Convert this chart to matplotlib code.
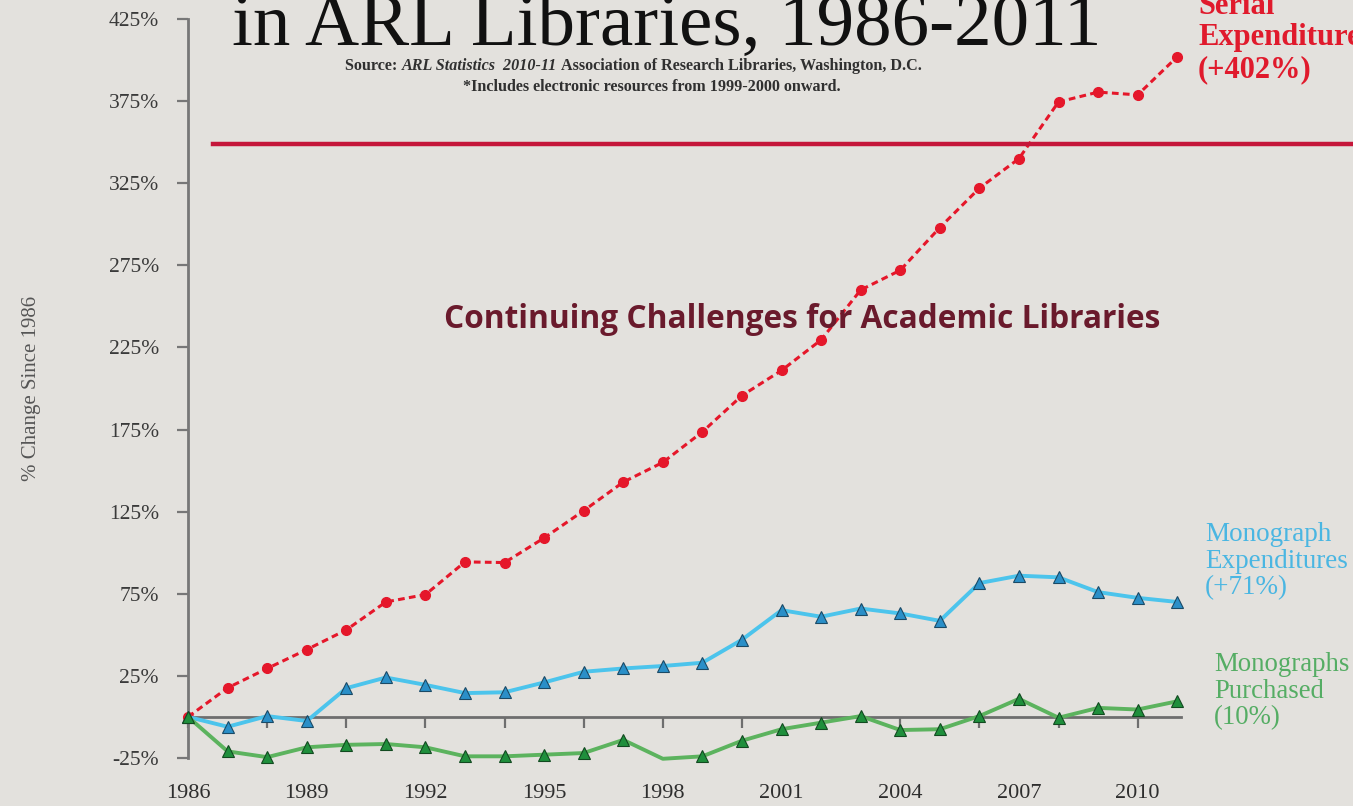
import matplotlib
matplotlib.use("Agg")
import matplotlib.pyplot as plt
from matplotlib.lines import Line2D

# ---------------- data ----------------
years = list(range(1986, 2012))
serial_exp = [0, 17.7, 29.5, 41, 53, 70, 74.5, 94.4, 94, 109, 125.6, 143, 155, 173.6,
              195.7, 211, 229.6, 260, 272, 298, 322, 340, 374.5, 380.5, 378.8, 402]
mono_exp = [0, -6, 0.5, -2.5, 17.5, 24, 19.5, 14.5, 15, 21, 27.5, 29.5, 31, 33,
            47, 65, 61, 66, 63, 58.5, 81.5, 86, 85, 76, 72.5, 70]
mono_purch = [0, -21, -24.5, -18.5, -17, -16.5, -18.5, -24, -24, -23, -22, -14, -25.5, -24,
              -14.5, -7.5, -3.5, 0.5, -8, -7.5, 0.5, 11, -0.5, 5.5, 4.5, 9.5]
ytick_vals = [-25, 25, 75, 125, 175, 225, 275, 325, 375, 425]
ytick_labels = [f"{v}%" for v in ytick_vals]
xlabel_years = [1986, 1989, 1992, 1995, 1998, 2001, 2004, 2007, 2010]
xtick_years = list(range(1986, 2012, 2))
purch_no_marker_year = 1998

BG = "#e3e1dd"
SERIF = ["Liberation Serif", "DejaVu Serif"]

fig = plt.figure(figsize=(13.53, 8.06), dpi=100, facecolor=BG)
ax = fig.add_axes([0.139, 0.0596, 0.734, 0.9168])
ax.set_facecolor(BG)

# series
ax.plot(years, serial_exp, color="#e5172a", lw=2.2, ls=(0, (2.2, 1.4)),
        marker="o", ms=7, mfc="#e5172a", mec="#e5172a", zorder=4, clip_on=False)
ax.plot(years, mono_exp, color="#4cc4ec", lw=2.8, marker="^", ms=8,
        mfc="#2a8fc8", mec="#1a4a66", mew=0.8, zorder=4, clip_on=False)
idx = [i for i, y in enumerate(years) if y != purch_no_marker_year]
ax.plot(years, mono_purch, color="#5cb35e", lw=2.8, marker="^", ms=8,
        mfc="#1f8f3c", mec="#124a20", mew=0.8, markevery=idx, zorder=4, clip_on=False)

ax.set_xlim(1986, 2011.1)
ax.set_ylim(-25, 425)

# axes styling
for s in ["top", "right"]:
    ax.spines[s].set_visible(False)
ax.spines["left"].set_color("#777777")
ax.spines["left"].set_linewidth(2)
ax.spines["bottom"].set_position(("data", 0))
ax.spines["bottom"].set_color("#6e6e6e")
ax.spines["bottom"].set_linewidth(2)
ax.spines["bottom"].set_zorder(3)

ax.set_yticks(ytick_vals)
ax.set_yticklabels(ytick_labels, fontfamily=SERIF, fontsize=15.5, color="#3a3a3a")
ax.tick_params(axis="y", length=8, width=1.6, color="#777777", pad=13)
ax.set_xticks(xtick_years)
ax.set_xticklabels([])
ax.tick_params(axis="x", length=8, width=1.6, color="#6e6e6e", direction="out")

sec = ax.secondary_xaxis(location=0)
sec.spines["bottom"].set_visible(False)
sec.set_xticks(xlabel_years)
sec.set_xticklabels([str(y) for y in xlabel_years], fontfamily=SERIF, fontsize=16, color="#2e2e2e")
sec.tick_params(length=0, pad=19)

ax.set_ylabel("% Change Since 1986", fontfamily=SERIF, fontsize=15, color="#555555", labelpad=49)

# title (cut at top)
fig.text(232 / 1353, 1 - 45 / 806, "in ARL Libraries, 1986-2011", fontfamily=SERIF,
         fontsize=54, color="#111111", ha="left", va="baseline")

# source line with italic section
SRC = dict(fontfamily=SERIF, fontsize=11.6, fontweight="bold", color="#303030")
t1 = fig.text(345 / 1353, 1 - 70 / 806, "Source: ", ha="left", va="baseline", **SRC)
a1 = plt.annotate("ARL Statistics  2010-11 ", xy=(1, 0), xycoords=t1, va="bottom", ha="left",
                  fontstyle="italic", annotation_clip=False, **SRC)
a2 = plt.annotate("Association of Research Libraries, Washington, D.C.", xy=(1, 0), xycoords=a1,
                  va="bottom", ha="left", annotation_clip=False, **SRC)
fig.text(652 / 1353, 1 - 91 / 806, "*Includes electronic resources from 1999-2000 onward.",
         ha="center", va="baseline", **SRC)

# red horizontal rule
fig.add_artist(Line2D([213 / 1353, 1.0], [1 - 144 / 806, 1 - 144 / 806], color="#c5163a", lw=3.2))

# overlay heading
fig.text(802 / 1353, 1 - 320 / 806, "Continuing Challenges for Academic Libraries",
         fontfamily=["Open Sans", "DejaVu Sans"], fontweight="bold", fontsize=22.8,
         color="#6a1a2c", ha="center", va="center")

# right-side series labels
fig.text(1198 / 1353, 1 - 77 / 806, "Serial\nExpenditures\n(+402%)", fontfamily=SERIF,
         fontsize=22, fontweight="bold", color="#e01a2c", ha="left", va="baseline",
         linespacing=1.12)
fig.text(1205 / 1353, 1 - 594 / 806, "Monograph\nExpenditures\n(+71%)", fontfamily=SERIF,
         fontsize=19.5, color="#4ab6e2", ha="left", va="baseline", linespacing=1.07)
fig.text(1214 / 1353, 1 - 724 / 806, "Monographs\nPurchased\n(10%)", fontfamily=SERIF,
         fontsize=19.3, color="#55ad64", ha="left", va="baseline", linespacing=1.07)

fig.savefig("out.png", dpi=100, facecolor=BG)
